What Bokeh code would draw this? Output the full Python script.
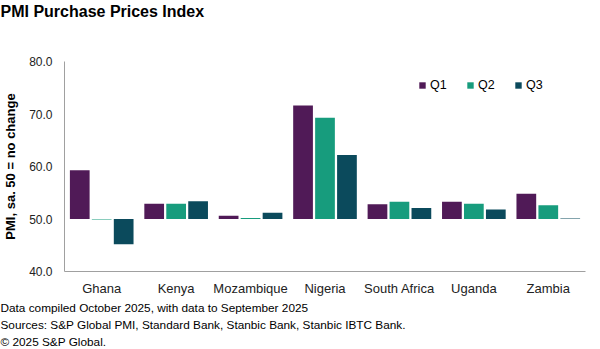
from bokeh.plotting import figure
from bokeh.models import ColumnDataSource, FactorRange, FixedTicker, PrintfTickFormatter, Title, Legend, LegendItem
from bokeh.transform import dodge
from bokeh.embed import file_html
from bokeh.resources import INLINE

countries = ["Ghana", "Kenya", "Mozambique", "Nigeria", "South Africa", "Uganda", "Zambia"]
q1 = [59.3, 52.9, 50.6, 71.6, 52.8, 53.3, 54.8]
q2 = [49.9, 52.9, 50.2, 69.3, 53.3, 52.9, 52.6]
q3 = [45.2, 53.4, 51.2, 62.2, 52.1, 51.8, 50.1]
series = ["Q1", "Q2", "Q3"]
colors = ["#501a57", "#179c7d", "#0b4a5c"]
yticks = [40, 50, 60, 70, 80]
notes = ["Data compiled October 2025, with data to September 2025",
         "Sources: S&P Global PMI, Standard Bank, Stanbic Bank, Stanbic IBTC Bank.",
         "\u00a9 2025 S&P Global."]

FONT = "Liberation Sans"
src = ColumnDataSource(dict(country=countries, Q1=q1, Q2=q2, Q3=q3))

p = figure(width=600, height=349, x_range=FactorRange(*countries), y_range=(40, 80),
           output_backend="svg", toolbar_location=None,
           min_border_left=64, min_border_right=15, min_border_top=0, min_border_bottom=0)
# main title
p.title.text = "PMI Purchase Prices Index"
p.title.text_font = FONT
p.title.text_font_size = "16px"
p.title.text_font_style = "bold"
p.title.text_color = "#000000"
p.title.align = "left"
p.title.offset = -64
p.title.standoff = 0
# spacer title between main title and frame
p.add_layout(Title(text=" ", text_font_size="10px", standoff=29), "above")

renderers = []
offsets = [-0.295, 0.0, 0.295]
for s, c, o in zip(series, colors, offsets):
    r = p.vbar(x=dodge("country", o, range=p.x_range), top=s, bottom=50, width=0.265,
               source=src, color=c, line_color=None)
    renderers.append(r)

legend = Legend(items=[LegendItem(label=s, renderers=[r]) for s, r in zip(series, renderers)],
                orientation="horizontal", location=(354, 179))
legend.glyph_width = 8
legend.glyph_height = 8
legend.label_standoff = 4
legend.spacing = 16
legend.label_text_font = FONT
legend.label_text_font_size = "12.5px"
legend.label_text_color = "#000000"
legend.border_line_color = None
legend.background_fill_alpha = 0
legend.padding = 0
legend.margin = 0
p.add_layout(legend, "center")

p.xgrid.visible = False
p.ygrid.visible = False
p.outline_line_color = None

p.yaxis.ticker = FixedTicker(ticks=yticks)
p.yaxis.formatter = PrintfTickFormatter(format="%.1f")
p.yaxis.axis_label = "PMI, sa. 50 = no change"
p.yaxis.axis_label_text_font = FONT
p.yaxis.axis_label_text_font_size = "13px"
p.yaxis.axis_label_text_font_style = "bold"
p.yaxis.axis_label_text_color = "#000000"
p.yaxis.axis_label_standoff = 8

for ax in (p.xaxis, p.yaxis):
    ax.axis_line_color = "#a0a0a0"
    ax.major_tick_line_color = None
    ax.minor_tick_line_color = None
    ax.major_label_text_font = FONT
    ax.major_label_text_font_size = "12px"
    ax.major_label_text_color = "#222222"
p.xaxis.major_label_text_font_size = "13px"
p.yaxis.major_label_standoff = 6
p.xaxis.major_label_standoff = 3

for t in notes:
    p.add_layout(Title(text=t, text_font=FONT, text_font_size="11.8px", text_font_style="normal",
                       text_color="#000000", align="left", offset=-64, standoff=1), "below")

open("out.html", "w").write(file_html(p, INLINE))
